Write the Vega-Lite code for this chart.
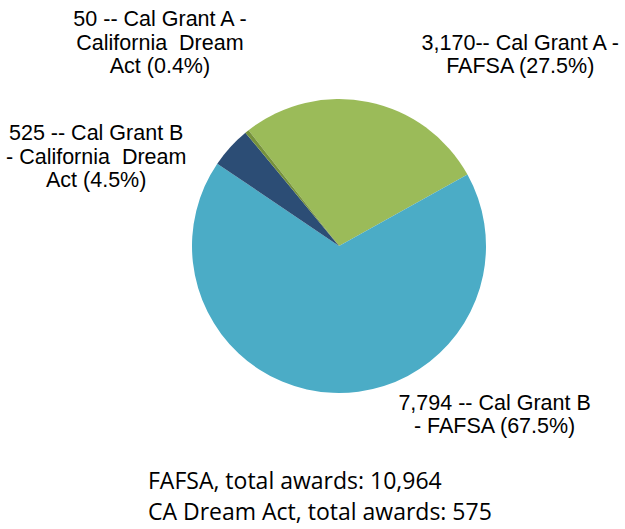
{
  "$schema": "https://vega.github.io/schema/vega-lite/v6.json",
  "width": 294,
  "height": 294,
  "autosize": "none",
  "padding": {"left": 192, "top": 99, "right": 139, "bottom": 136},
  "background": "#ffffff",
  "view": {"stroke": null},
  "title": {
    "text": ["FAFSA, total awards: 10,964", "CA Dream Act, total awards: 575"],
    "orient": "bottom",
    "anchor": "start",
    "frame": "group",
    "baseline": "alphabetic",
    "dx": -44,
    "offset": 51,
    "font": "Open Sans",
    "fontSize": 23,
    "fontWeight": "normal",
    "color": "#000000",
    "lineHeight": 31.5
  },
  "data": {
    "values": [
      {"category": "Cal Grant A - FAFSA", "awards": 3170, "order": 1, "label": "3,170-- Cal Grant A -\nFAFSA (27.5%)"},
      {"category": "Cal Grant B - FAFSA", "awards": 7794, "order": 2, "label": "7,794 -- Cal Grant B\n- FAFSA (67.5%)"},
      {"category": "Cal Grant B - California Dream Act", "awards": 525, "order": 3, "label": "525 -- Cal Grant B\n- California\u00a0 Dream\nAct (4.5%)"},
      {"category": "Cal Grant A - California Dream Act", "awards": 50, "order": 4, "label": "50 -- Cal Grant A -\nCalifornia\u00a0 Dream\nAct (0.4%)"}
    ]
  },
  "encoding": {
    "theta": {"field": "awards", "type": "quantitative", "stack": true, "scale": {"range": [-0.663, 5.6202]}},
    "order": {"field": "order", "type": "quantitative"}
  },
  "layer": [
    {
      "mark": {"type": "arc", "outerRadius": 147, "stroke": null},
      "encoding": {
        "color": {
          "field": "category",
          "type": "nominal",
          "scale": {
            "domain": ["Cal Grant A - FAFSA", "Cal Grant B - FAFSA", "Cal Grant B - California Dream Act", "Cal Grant A - California Dream Act"],
            "range": ["#9BBB59", "#4BACC6", "#2C4D75", "#76923C"]
          },
          "legend": null
        }
      }
    },
    {
      "mark": {"type": "text", "radius": 147, "dx": 152, "dy": -52, "align": "center", "baseline": "alphabetic", "lineBreak": "\n", "font": "Liberation Sans", "fontSize": 21.5, "lineHeight": 23.5, "color": "#000000"},
      "encoding": {"text": {"field": "label", "type": "nominal", "condition": {"test": "datum.order !== 1", "value": ""}}}
    },
    {
      "mark": {"type": "text", "radius": 147, "dx": 162, "dy": 17, "align": "center", "baseline": "alphabetic", "lineBreak": "\n", "font": "Liberation Sans", "fontSize": 21.5, "lineHeight": 23.5, "color": "#000000"},
      "encoding": {"text": {"field": "label", "type": "nominal", "condition": {"test": "datum.order !== 2", "value": ""}}}
    },
    {
      "mark": {"type": "text", "radius": 147, "dx": -134, "dy": -7, "align": "center", "baseline": "alphabetic", "lineBreak": "\n", "font": "Liberation Sans", "fontSize": 21.5, "lineHeight": 23.5, "color": "#000000"},
      "encoding": {"text": {"field": "label", "type": "nominal", "condition": {"test": "datum.order !== 3", "value": ""}}}
    },
    {
      "mark": {"type": "text", "radius": 147, "dx": -87, "dy": -105, "align": "center", "baseline": "alphabetic", "lineBreak": "\n", "font": "Liberation Sans", "fontSize": 21.5, "lineHeight": 23.5, "color": "#000000"},
      "encoding": {"text": {"field": "label", "type": "nominal", "condition": {"test": "datum.order !== 4", "value": ""}}}
    }
  ]
}
